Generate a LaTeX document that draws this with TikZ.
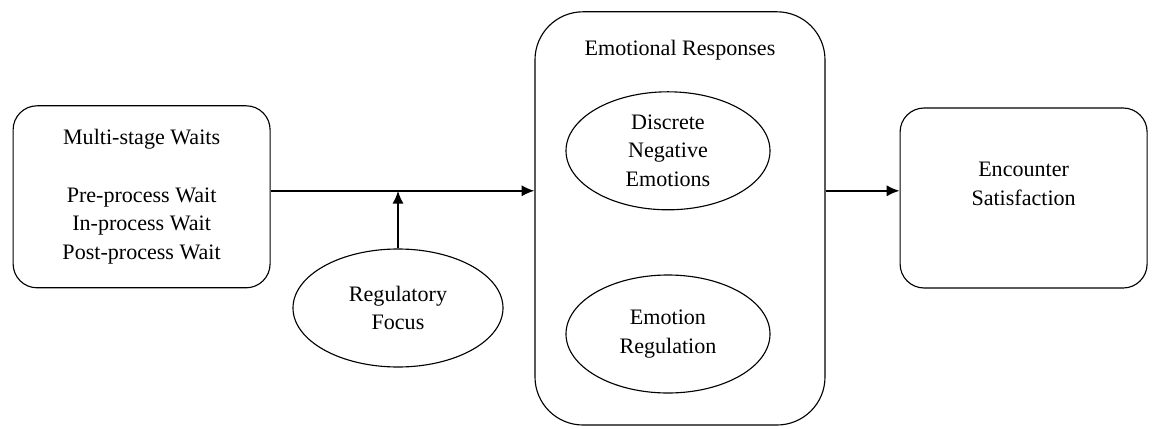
\documentclass[tikz,border=0pt]{standalone}
\usepackage{fontspec}
\setmainfont{Liberation Serif}
\usepackage{tikz}
\usetikzlibrary{positioning, shapes.geometric, arrows.meta}
\usetikzlibrary{calc}
\tikzstyle{waitbox} = [rectangle, rounded corners=0.6cm, line width=0.8pt, text centered, draw=black, align=center]
\tikzstyle{oval} = [ellipse, minimum width=5.1cm, minimum height=2.95cm, inner sep=0pt, line width=0.8pt, text centered, draw=black, align=center]
\tikzstyle{arrow} = [line width=1.3pt,->,>={Latex[length=3.2mm,width=2.8mm]}]
\tikzstyle{every node}=[font=\fontsize{15.7}{20.5}\selectfont]

\begin{document}
\begin{tikzpicture}[node distance=2cm,]
			\useasboundingbox (0,0) rectangle (28.95,10.7);
			\node (waits) [waitbox, minimum width=6.425cm, minimum height=4.55cm] at (3.54,5.78) {Multi-stage Waits\\ \\Pre-process Wait\\In-process Wait\\Post-process Wait};
			\node (focus) [oval, minimum width=5.25cm] at (9.95,3.0) {Regulatory\\Focus};
			\node (resp) [waitbox, rounded corners=1.2cm, minimum width=7.25cm, minimum height=10.33cm] at (17.0,5.24) {};
			\node (resptitle) [below=0.6cm of resp.north] {Emotional Responses};
			\node (negemo) [oval] at (16.7,6.93) {Discrete\\Negative\\Emotions};
			\node (emoreg) [oval, below of=negemo, yshift=-2.58cm] {Emotion\\Regulation};
			\node (satis) [waitbox, minimum width=6.175cm, minimum height=4.5cm] at (25.59,5.75) {Encounter\\Satisfaction\\\mbox{}};
			\coordinate (mid) at ($(waits.east)+(0,0.15)$);
			%连接
			\draw [arrow](mid) -- (mid -| resp.west);
			\draw [arrow](focus) -- (focus |- mid);
			\draw [arrow](resp.east |- mid) -- (satis.west |- mid);
		\end{tikzpicture}
\end{document}
